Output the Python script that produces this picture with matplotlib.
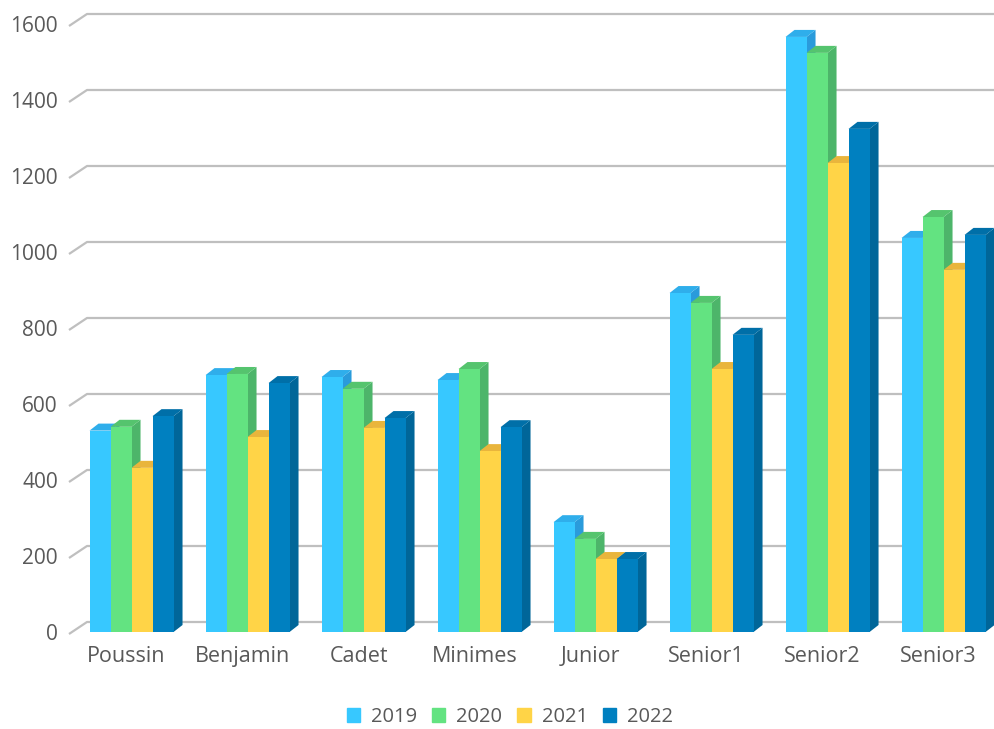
import numpy as np
import matplotlib.pyplot as plt
from matplotlib.patches import Polygon, Patch
from matplotlib.transforms import ScaledTranslation

plt.rcParams['font.family'] = ['Open Sans', 'DejaVu Sans']

categories = ["Poussin", "Benjamin", "Cadet", "Minimes", "Junior", "Senior1", "Senior2", "Senior3"]
years = ["2019", "2020", "2021", "2022"]
v2019 = [530, 676, 671, 663, 289, 892, 1566, 1037]
v2020 = [540, 679, 640, 692, 245, 866, 1524, 1092]
v2021 = [432, 513, 537, 476, 192, 692, 1234, 953]
v2022 = [568, 655, 563, 539, 192, 782, 1324, 1045]
series = [v2019, v2020, v2021, v2022]
yticks = [0, 200, 400, 600, 800, 1000, 1200, 1400, 1600]

front = ["#37C8FF", "#63E381", "#FFD447", "#0080C0"]
top = ["#2FAEEB", "#55C46E", "#E9B53C", "#006FA8"]
side = ["#2A9BDB", "#4DB56A", "#E0A838", "#006699"]
text_col = "#595959"

W, H = 994, 729
fig = plt.figure(figsize=(W / 100, H / 100), dpi=100)
ax = fig.add_axes([69 / W, (H - 632) / H, 925 / W, 608 / H])
ax.set_xlim(-0.539, 7.435)
ax.set_ylim(0, 1600)

# pixel -> data unit conversions
px_x = 1 / 116.0
px_y = 1600 / 608.0

# back wall gridlines (perspective)
for v in yticks:
    ax.plot([-0.539, -0.539 + 18 * px_x, 7.6],
            [v - 2 * px_y, v + 10 * px_y, v + 10 * px_y],
            color="#BFBFBF", lw=1.6, clip_on=False, zorder=1,
            solid_capstyle="butt")

w = 21 * px_x
dx, dy = 9 * px_x, 7 * px_y
x = np.arange(len(categories))
z = 2
for i in range(len(categories)):
    for j, vals in enumerate(series):
        x0 = x[i] + (j - 2) * w
        v = vals[i]
        ax.add_patch(Polygon([(x0 + w, 0), (x0 + w, v), (x0 + w + dx, v + dy), (x0 + w + dx, dy)],
                             closed=True, fc=side[j], ec="none", zorder=z))
        ax.add_patch(Polygon([(x0, v), (x0 + dx, v + dy), (x0 + w + dx, v + dy), (x0 + w, v)],
                             closed=True, fc=top[j], ec="none", zorder=z + 1))
        ax.bar(x0, v, width=w, align="edge", color=front[j], zorder=z + 2, lw=0)
        z += 3

for s in ax.spines.values():
    s.set_visible(False)
ax.set_xticks(x)
ax.set_xticklabels(categories, fontsize=15.5, color=text_col)
ax.set_yticks(yticks)
ax.set_yticklabels([str(t) for t in yticks], fontsize=15, color=text_col)
ax.tick_params(length=0)
ax.tick_params(axis="x", pad=10)
ax.tick_params(axis="y", pad=8)
for lab in ax.get_xticklabels():
    lab.set_transform(lab.get_transform() + ScaledTranslation(-5 / 100, 0, fig.dpi_scale_trans))

handles = [Patch(color=front[j], label=years[j]) for j in range(4)]
fig.legend(handles=handles, loc="center", bbox_to_anchor=(0.513, 1 - 717 / H), ncol=4,
           frameon=False, fontsize=14.5, handlelength=0.65, handleheight=0.65,
           handletextpad=0.55, columnspacing=0.75, labelcolor=text_col,
           borderpad=0.2)

fig.savefig("out.png", dpi=100)
